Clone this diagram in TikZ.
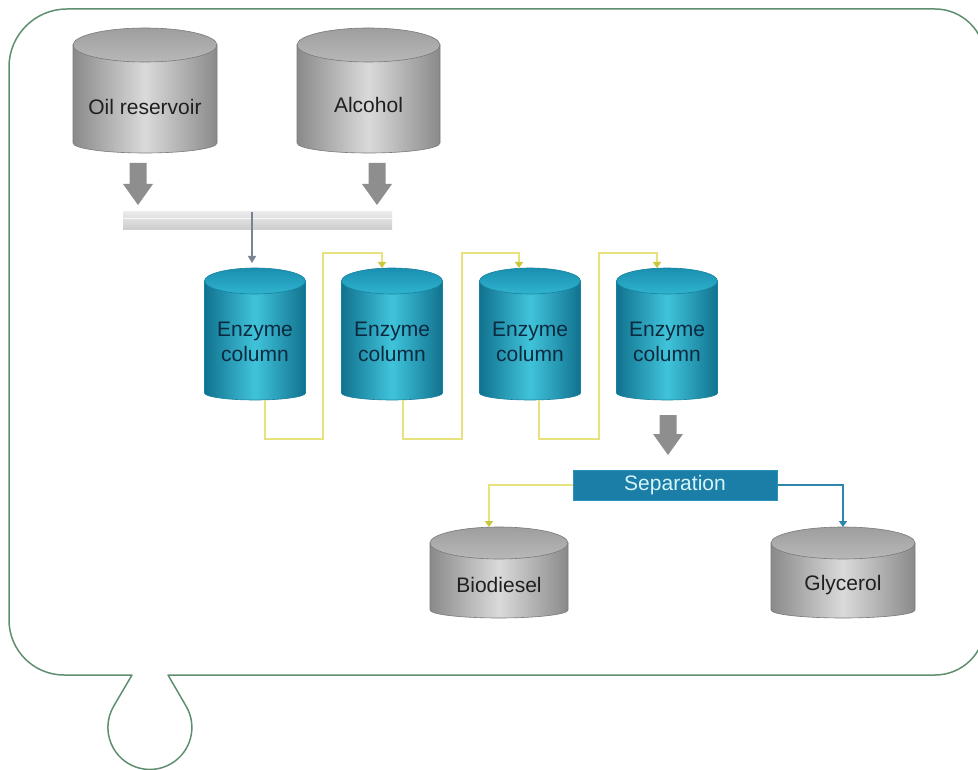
\documentclass[tikz,border=0pt]{standalone}
\usepackage{fontspec}
\setmainfont{Liberation Sans}
\usetikzlibrary{arrows.meta,calc}
\definecolor{framecol}{HTML}{5F8F70}
\definecolor{tankedge}{HTML}{8A8A8A}
\definecolor{tankmid}{HTML}{DADADA}
\definecolor{tankline}{HTML}{7A7A7A}
\definecolor{tanktopA}{HTML}{9E9E9E}
\definecolor{tanktopB}{HTML}{B8B8B8}
\definecolor{tealedge}{HTML}{11728F}
\definecolor{tealmid}{HTML}{40C4DB}
\definecolor{tealtopA}{HTML}{1A8FB0}
\definecolor{tealtopB}{HTML}{2FB3CF}
\definecolor{tealline}{HTML}{16829F}
\definecolor{tealtext}{HTML}{0B2A40}
\definecolor{arrowgray}{HTML}{8E8E8E}
\definecolor{thingray}{HTML}{7A8294}
\definecolor{yelline}{HTML}{E8E27E}
\definecolor{yeltip}{HTML}{C8C83A}
\definecolor{bluline}{HTML}{2F86AD}
\definecolor{sepfill}{HTML}{1A7EA6}
\definecolor{sepline}{HTML}{2A93BC}
\definecolor{septext}{HTML}{D6F3FA}
\newcommand\tank[8]{%
  \path[#8body] (#2-#3,#4+#5) -- (#2-#3,#6) arc[start angle=180,end angle=360,x radius=#3pt,y radius=#7pt] -- (#2+#3,#4+#5) -- cycle;
  \path[#8top] (#2,#4+#5) ellipse[x radius=#3pt,y radius=#5pt];
  \coordinate (#1-top) at (#2,#4);
  \coordinate (#1-bot) at (#2,#6+#7);
}
\newcommand\blockarrow[2]{%
  \fill[arrowgray] ($(#1)+(-8.5,0)$) -- ($(#1)+(8.5,0)$) -- ($(#1)+(8.5,#2-21)$) -- ($(#1)+(15,#2-21)$)
    -- ($(#1)+(0,#2)$) -- ($(#1)+(-15,#2-21)$) -- ($(#1)+(-8.5,#2-21)$) -- cycle;
}
\begin{document}
\begin{tikzpicture}[x=1pt,y=-1pt,
  frame/.style={draw=framecol,line width=1.5pt,line join=round},
  graybody/.style={draw=tankline,line width=0.6pt,left color=tankedge,right color=tankedge,middle color=tankmid},
  graytop/.style={draw=tankline,line width=0.6pt,top color=tanktopA,bottom color=tanktopB},
  tealbody/.style={draw=tealline,line width=0.6pt,left color=tealedge,right color=tealedge,middle color=tealmid},
  tealtop/.style={draw=tealline,line width=0.6pt,top color=tealtopA,bottom color=tealtopB},
  label/.style={font=\fontsize{21}{25}\selectfont,align=center,inner sep=0pt},
  graylabel/.style={label,text=black!88},
  teallabel/.style={label,text=tealtext},
  sepbox/.style={label,fill=sepfill,draw=sepline,line width=0.6pt,minimum width=204pt,minimum height=30pt,text=septext},
  mixbar/.style={inner sep=0pt,minimum width=269pt,minimum height=18pt,top color=black!8,bottom color=black!20},
  yel/.style={draw=yelline,line width=1.4pt,-{Triangle[length=6pt,width=8pt,color=yeltip]}},
  blu/.style={draw=bluline,line width=1.4pt,-{Triangle[length=6pt,width=8pt,color=bluline]}},
  thinarrow/.style={draw=thingray,line width=1.1pt,-{Triangle[length=7pt,width=8pt]}}
]
\useasboundingbox (0,0) rectangle (978,770);
\clip (0,0) rectangle (978,770);
\fill[white] (0,0) rectangle (978,770);

% outer frame with drop loop
\draw[frame] (132,675) -- (64,675) arc[start angle=270,end angle=180,radius=55pt]
  -- (9,67) arc[start angle=180,end angle=90,radius=58pt]
  -- (935,9) arc[start angle=90,end angle=0,radius=50pt]
  -- (985,625) arc[start angle=0,end angle=-90,radius=50pt]
  -- (168,675) -- (186,706) arc[start angle=30.7,end angle=-210.7,radius=42pt] -- cycle;

% feed tanks
\tank{oilt}{145}{72}{28}{17}{143}{10}{gray}
\tank{alct}{368.5}{71.5}{28}{17}{143}{10}{gray}
\node[graylabel] (oil) at (145,107) {Oil reservoir};
\node[graylabel] (alc) at (368.5,105) {Alcohol};

% mixing bar
\node[mixbar] (mix) at (257.5,221) {};
\draw[white!70!black!10,line width=1pt] ([yshift=-7pt]mix.north west) -- ([yshift=-7pt]mix.north east);

\blockarrow{138,163}{42}
\blockarrow{377,163}{42}

% enzyme columns
\tank{c1}{255}{50.5}{268}{13}{393}{7}{teal}
\tank{c2}{392}{50.5}{268}{13}{393}{7}{teal}
\tank{c3}{530}{50.5}{268}{13}{393}{7}{teal}
\tank{c4}{667}{50.5}{268}{13}{393}{7}{teal}
\node[teallabel] (col1) at (255,342) {Enzyme\\column};
\node[teallabel] (col2) at (392,342) {Enzyme\\column};
\node[teallabel] (col3) at (530,342) {Enzyme\\column};
\node[teallabel] (col4) at (667,342) {Enzyme\\column};

\draw[thinarrow] ([xshift=-5.5pt]mix.north) -- ([xshift=-3pt,yshift=5pt]c1-top);

\draw[yel] ([xshift=10pt]c1-bot) |- (323,439) |- (382,253) -- ([xshift=-10pt]c2-top);
\draw[yel] ([xshift=11pt]c2-bot) |- (462,439) |- (519,253) -- ([xshift=-11pt]c3-top);
\draw[yel] ([xshift=9pt]c3-bot) |- (599,439) |- (657,253) -- ([xshift=-10pt]c4-top);

\blockarrow{668,415}{40}

% separation
\node[sepbox] (sep) at (675,485) {Separation};

% product tanks
\tank{biot}{499}{69}{527}{16}{610}{8}{gray}
\tank{glyt}{843}{72}{527}{16}{610}{8}{gray}
\node[graylabel] (bio) at (499,585) {Biodiesel};
\node[graylabel] (gly) at (843,585) {Glycerol};

\draw[yel] (sep.west) -| ([xshift=-10pt]biot-top);
\draw[blu] (sep.east) -| (glyt-top);
\end{tikzpicture}
\end{document}
